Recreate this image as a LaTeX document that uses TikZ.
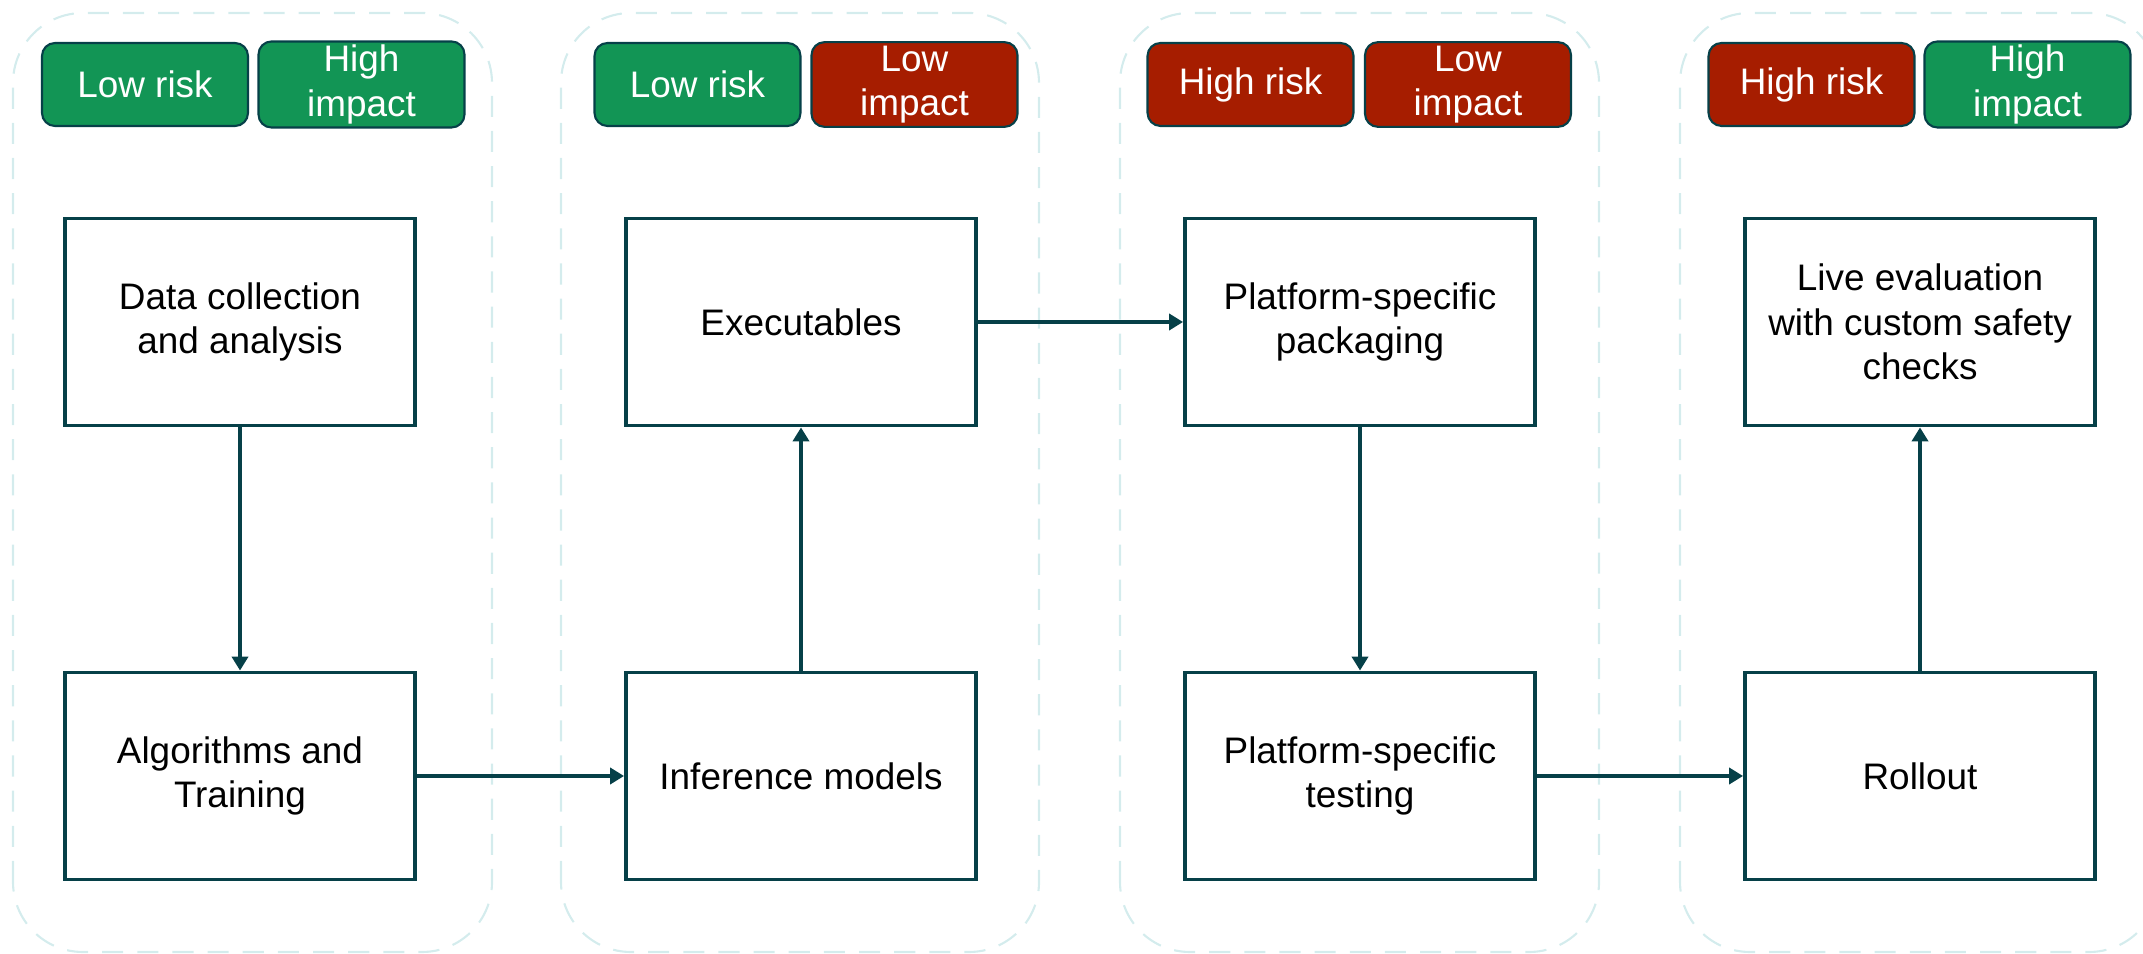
\documentclass[tikz,border=0pt]{standalone}
\usepackage{fontspec}
\setmainfont{Liberation Sans}
\usetikzlibrary{arrows.meta,positioning}
\definecolor{deepteal}{RGB}{6,64,72}
\definecolor{mint}{RGB}{212,236,237}
\definecolor{okgreen}{RGB}{18,149,85}
\definecolor{alarm}{RGB}{166,29,0}
\newcommand{\txt}{\fontsize{10.5}{12.7}\selectfont}
\tikzset{
  >={Triangle[length=4pt,width=4.6pt]},
  panel/.style={draw=mint,line width=0.6pt,dash pattern=on 6pt off 4pt,rounded corners=0.7cm},
  stage/.style={draw=deepteal,line width=1.1pt,fill=white,minimum width=3.5cm,
    minimum height=2.07cm,align=center,font=\txt},
  tag/.style={draw=deepteal,line width=0.6pt,fill=#1,text=white,rounded corners=3.7pt,
    minimum width=2.06cm,minimum height=0.83cm,inner sep=1pt,align=center,font=\txt},
  tag/.default=okgreen,
  flow/.style={->,draw=deepteal,line width=1.1pt},
}
\begin{document}
\begin{tikzpicture}
  \useasboundingbox (0,0) rectangle (21.43,9.53);
  % dashed lanes
  \foreach \x/\w in {0.13/4.92,5.61/10.39,11.20/15.99,16.80/21.59}
    \draw[panel] (\x,0.01) rectangle (\w,9.40);
  % risk and impact tags
  \node[tag=okgreen] (risk1) at (1.45,8.685) {Low risk};
  \node[tag=okgreen] (imp1) at (3.615,8.685) {High\\impact};
  \node[tag=okgreen] (risk2) at (6.975,8.685) {Low risk};
  \node[tag=alarm] (imp2) at (9.145,8.685) {Low\\impact};
  \node[tag=alarm] (risk3) at (12.505,8.685) {High risk};
  \node[tag=alarm] (imp3) at (14.68,8.685) {Low\\impact};
  \node[tag=alarm] (risk4) at (18.115,8.685) {High risk};
  \node[tag=okgreen] (imp4) at (20.275,8.685) {High\\impact};
  % stages
  \node[stage] (data) at (2.40,6.31) {Data collection\\and analysis};
  \node[stage] (algo) at (2.40,1.77) {Algorithms and\\Training};
  \node[stage] (infer) at (8.01,1.77) {Inference models};
  \node[stage] (exec) at (8.01,6.31) {Executables};
  \node[stage] (pack) at (13.60,6.31) {Platform-specific\\packaging};
  \node[stage] (test) at (13.60,1.77) {Platform-specific\\testing};
  \node[stage] (roll) at (19.20,1.77) {Rollout};
  \node[stage] (live) at (19.20,6.31) {Live evaluation\\with custom safety\\checks};
  % connectors
  \draw[flow] (data) -- (algo);
  \draw[flow] (algo) -- (infer);
  \draw[flow] (infer) -- (exec);
  \draw[flow] (exec) -- (pack);
  \draw[flow] (pack) -- (test);
  \draw[flow] (test) -- (roll);
  \draw[flow] (roll) -- (live);
\end{tikzpicture}
\end{document}
